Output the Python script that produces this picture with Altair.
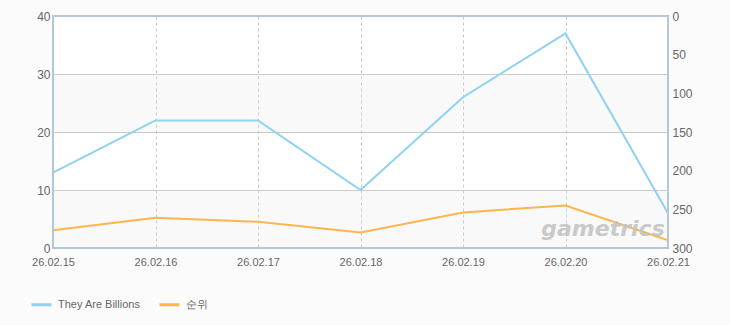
import altair as alt
import pandas as pd

dates = ["26.02.15", "26.02.16", "26.02.17", "26.02.18", "26.02.19", "26.02.20", "26.02.21"]
players = [13, 22, 22, 10, 26, 37, 6]
ranks = [277, 261, 266, 280, 254, 245, 290]
series_names = ["They Are Billions", "순위"]
series_colors = ["#8fd1f0", "#fbb64e"]
band_lo = [0, 20]
band_hi = [10, 30]

df_p = pd.DataFrame({"date": dates, "value": players, "series": series_names[0]})
df_r = pd.DataFrame({"date": dates, "value": ranks, "series": series_names[1]})
df_b = pd.DataFrame({"lo": band_lo, "hi": band_hi})

W, H = 615, 232
label_color = "#666666"
font = "Liberation Sans"

xenc = alt.X(
    "date:N",
    sort=dates,
    scale=alt.Scale(type="point", padding=0),
    axis=alt.Axis(
        title=None, labelAngle=0, labelColor=label_color, labelFontSize=11,
        labelFont=font, domain=False, ticks=False, labelPadding=8,
        grid=True, gridColor="#c8c8c8", gridDash=[3, 3], gridWidth=1,
    ),
)

left_axis = alt.Axis(
    title=None, values=[0, 10, 20, 30, 40], labelColor=label_color,
    labelFontSize=12, labelFont=font, domain=False, ticks=False, labelPadding=3,
    grid=True, gridColor="#c8c8c8", gridWidth=1,
)
left_scale = alt.Scale(domain=[0, 40], nice=False)

color = alt.Color(
    "series:N",
    scale=alt.Scale(domain=series_names, range=series_colors),
    legend=alt.Legend(
        title=None, orient="none", legendX=-23, legendY=277, direction="horizontal",
        symbolType="stroke", symbolSize=400, symbolStrokeWidth=3,
        labelFontSize=11, labelFont=font, labelColor=label_color, columnPadding=12,
        labelOffset=5,
    ),
)

bands = alt.Chart(df_b).mark_rect(color="#e0e0e0", opacity=0.18).encode(
    x=alt.value(0), x2=alt.value(W),
    y=alt.Y("lo:Q", scale=left_scale, axis=left_axis),
    y2="hi:Q",
)

left_line = alt.Chart(df_p).mark_line(strokeWidth=2).encode(
    x=xenc,
    y=alt.Y("value:Q", scale=left_scale, axis=left_axis),
    color=color,
)

left = alt.layer(bands, left_line)

right_line = alt.Chart(df_r).mark_line(strokeWidth=2).encode(
    x=xenc,
    y=alt.Y(
        "value:Q", scale=alt.Scale(domain=[0, 300], reverse=True, nice=False),
        axis=alt.Axis(
            title=None, orient="right", values=[0, 50, 100, 150, 200, 250, 300],
            labelColor=label_color, labelFontSize=12, labelFont=font, domain=False,
            ticks=False, grid=False, labelPadding=4,
        ),
    ),
    color=color,
)

watermark = alt.Chart(pd.DataFrame({"t": ["gametrics"]})).mark_text(
    fontSize=22, fontWeight="bold", fontStyle="italic", font="DejaVu Sans",
    color="#c4c4c4", opacity=0.9, align="center", baseline="middle",
).encode(text="t:N", x=alt.value(550), y=alt.value(213))

frame = alt.Chart(pd.DataFrame({"f": [0]})).mark_rect(
    fill=None, fillOpacity=0, stroke="#b4c6d9", strokeWidth=2,
).encode(x=alt.value(0), x2=alt.value(W), y=alt.value(0), y2=alt.value(H))

chart = alt.layer(left, right_line, watermark, frame).resolve_scale(y="independent").properties(
    width=W, height=H,
    autosize=alt.AutoSizeParams(type="none"),
    padding={"left": 53, "top": 16, "right": 62, "bottom": 77},
    background="#fbfbfb",
).configure_view(
    fill="white", strokeWidth=0,
)

chart.save("out.html", embed_options={"renderer": "svg", "actions": False})
